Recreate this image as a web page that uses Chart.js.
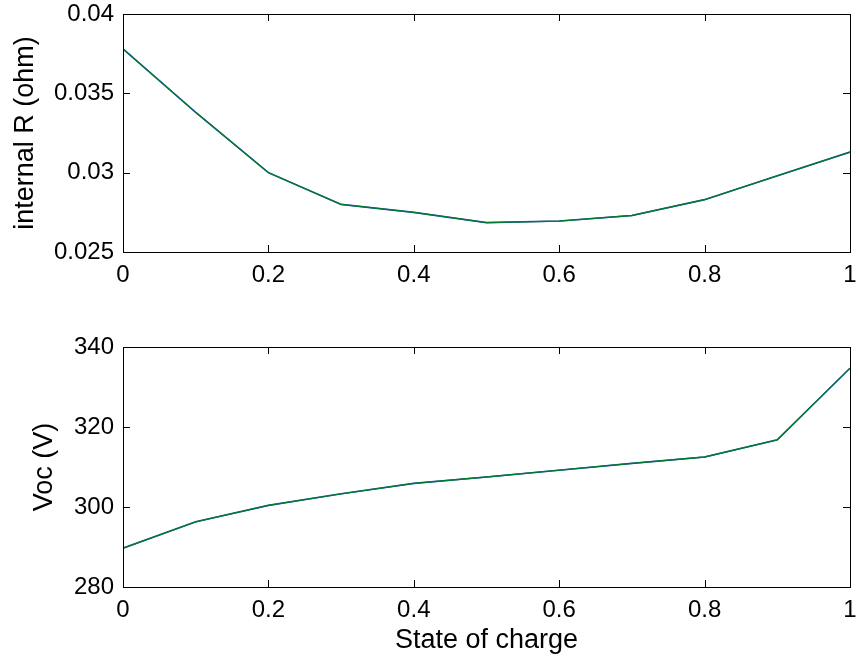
<!DOCTYPE html>
<html>
<head>
<meta charset="utf-8">
<script src="https://cdn.jsdelivr.net/npm/chart.js@4/dist/chart.umd.min.js"></script>
<style>
  body { margin: 0; background: #fff; overflow: hidden; }
  canvas { position: absolute; left: 0; }
  #rChart { top: -33px; }
  #vChart { top: 300px; }
</style>
</head>
<body>
<canvas id="rChart" width="858" height="333"></canvas>
<canvas id="vChart" width="858" height="362"></canvas>
<script>
// state of charge samples
const soc = [0, 0.1, 0.2, 0.3, 0.4, 0.5, 0.6, 0.7, 0.8, 0.9, 1];
// internal resistance (ohm)
const internalR = [0.0378, 0.0338, 0.0300, 0.0280, 0.0275, 0.02685, 0.02695, 0.0273, 0.0283, 0.0298, 0.0313];
// open circuit voltage (V)
const voc = [289.7, 296.3, 300.4, 303.3, 305.9, 307.5, 309.2, 310.9, 312.5, 316.8, 334.7];

const socTicks = [0, 0.2, 0.4, 0.6, 0.8, 1];
const socTickLabels = ['0', '0.2', '0.4', '0.6', '0.8', '1'];
const rTicks = [0.025, 0.03, 0.035, 0.04];
const rTickLabels = ['0.025', '0.03', '0.035', '0.04'];
const vTicks = [280, 300, 320, 340];
const vTickLabels = ['280', '300', '320', '340'];

Chart.defaults.font.family = '"Liberation Sans", Arial, sans-serif';
Chart.defaults.color = '#000';

// matlab style box with inward ticks on all four sides
const boxPlugin = {
  id: 'box',
  afterDraw(chart) {
    const { ctx, chartArea: a, scales } = chart;
    const len = 7;
    ctx.save();
    ctx.strokeStyle = '#000';
    ctx.lineWidth = 1;
    ctx.strokeRect(a.left + 0.5, a.top + 0.5, a.right - a.left, a.bottom - a.top);
    ctx.beginPath();
    scales.x.ticks.forEach(t => {
      const px = Math.round(scales.x.getPixelForValue(t.value)) + 0.5;
      ctx.moveTo(px, a.bottom); ctx.lineTo(px, a.bottom - len);
      ctx.moveTo(px, a.top); ctx.lineTo(px, a.top + len);
    });
    scales.y.ticks.forEach(t => {
      const py = Math.round(scales.y.getPixelForValue(t.value)) + 0.5;
      ctx.moveTo(a.left, py); ctx.lineTo(a.left + len, py);
      ctx.moveTo(a.right, py); ctx.lineTo(a.right - len, py);
    });
    ctx.stroke();
    ctx.restore();
  }
};

function makeChart(id, values, yTicks, yLabels, yTitle, titlePad, xTitle, xHeight) {
  const pts = soc.map((x, i) => ({ x: x, y: values[i] }));
  return new Chart(document.getElementById(id), {
    type: 'line',
    data: {
      datasets: [
        { data: pts, borderColor: '#007a33', borderWidth: 1.3, pointRadius: 0, tension: 0 },
        { data: pts, borderColor: '#2050a0', borderWidth: 1.6, pointRadius: 0, tension: 0 }
      ]
    },
    options: {
      responsive: false,
      animation: false,
      devicePixelRatio: 1,
      layout: { padding: { top: 47, right: 8, left: 0, bottom: 0 } },
      plugins: { legend: { display: false }, tooltip: { enabled: false } },
      scales: {
        x: {
          type: 'linear',
          min: 0, max: 1,
          afterBuildTicks: s => { s.ticks = socTicks.map(v => ({ value: v })); },
          afterFit: s => {
            s.height = xHeight;
            s.paddingLeft = 0; s.paddingRight = 0;
          },
          ticks: {
            font: { size: 24 }, padding: 9, maxRotation: 0,
            callback: (v, i) => socTickLabels[i]
          },
          grid: { display: false, drawTicks: false },
          border: { display: false },
          title: { display: !!xTitle, text: xTitle, font: { size: 27 }, padding: { top: 0, bottom: 5 } }
        },
        y: {
          type: 'linear',
          min: yTicks[0], max: yTicks[yTicks.length - 1],
          afterBuildTicks: s => { s.ticks = yTicks.map(v => ({ value: v })); },
          afterFit: s => {
            s.width = 123;
            s.paddingTop = 0; s.paddingBottom = 0;
          },
          ticks: {
            font: { size: 24 }, padding: 9,
            callback: (v, i) => yLabels[i]
          },
          grid: { display: false, drawTicks: false },
          border: { display: false },
          title: { display: true, text: yTitle, font: { size: 27 }, padding: { top: titlePad, bottom: 0 } }
        }
      }
    },
    plugins: [boxPlugin]
  });
}

makeChart('rChart', internalR, rTicks, rTickLabels, 'internal R (ohm)', 9, '', 48);
makeChart('vChart', voc, vTicks, vTickLabels, 'Voc (V)', 28, 'State of charge', 75);
</script>
</body>
</html>
